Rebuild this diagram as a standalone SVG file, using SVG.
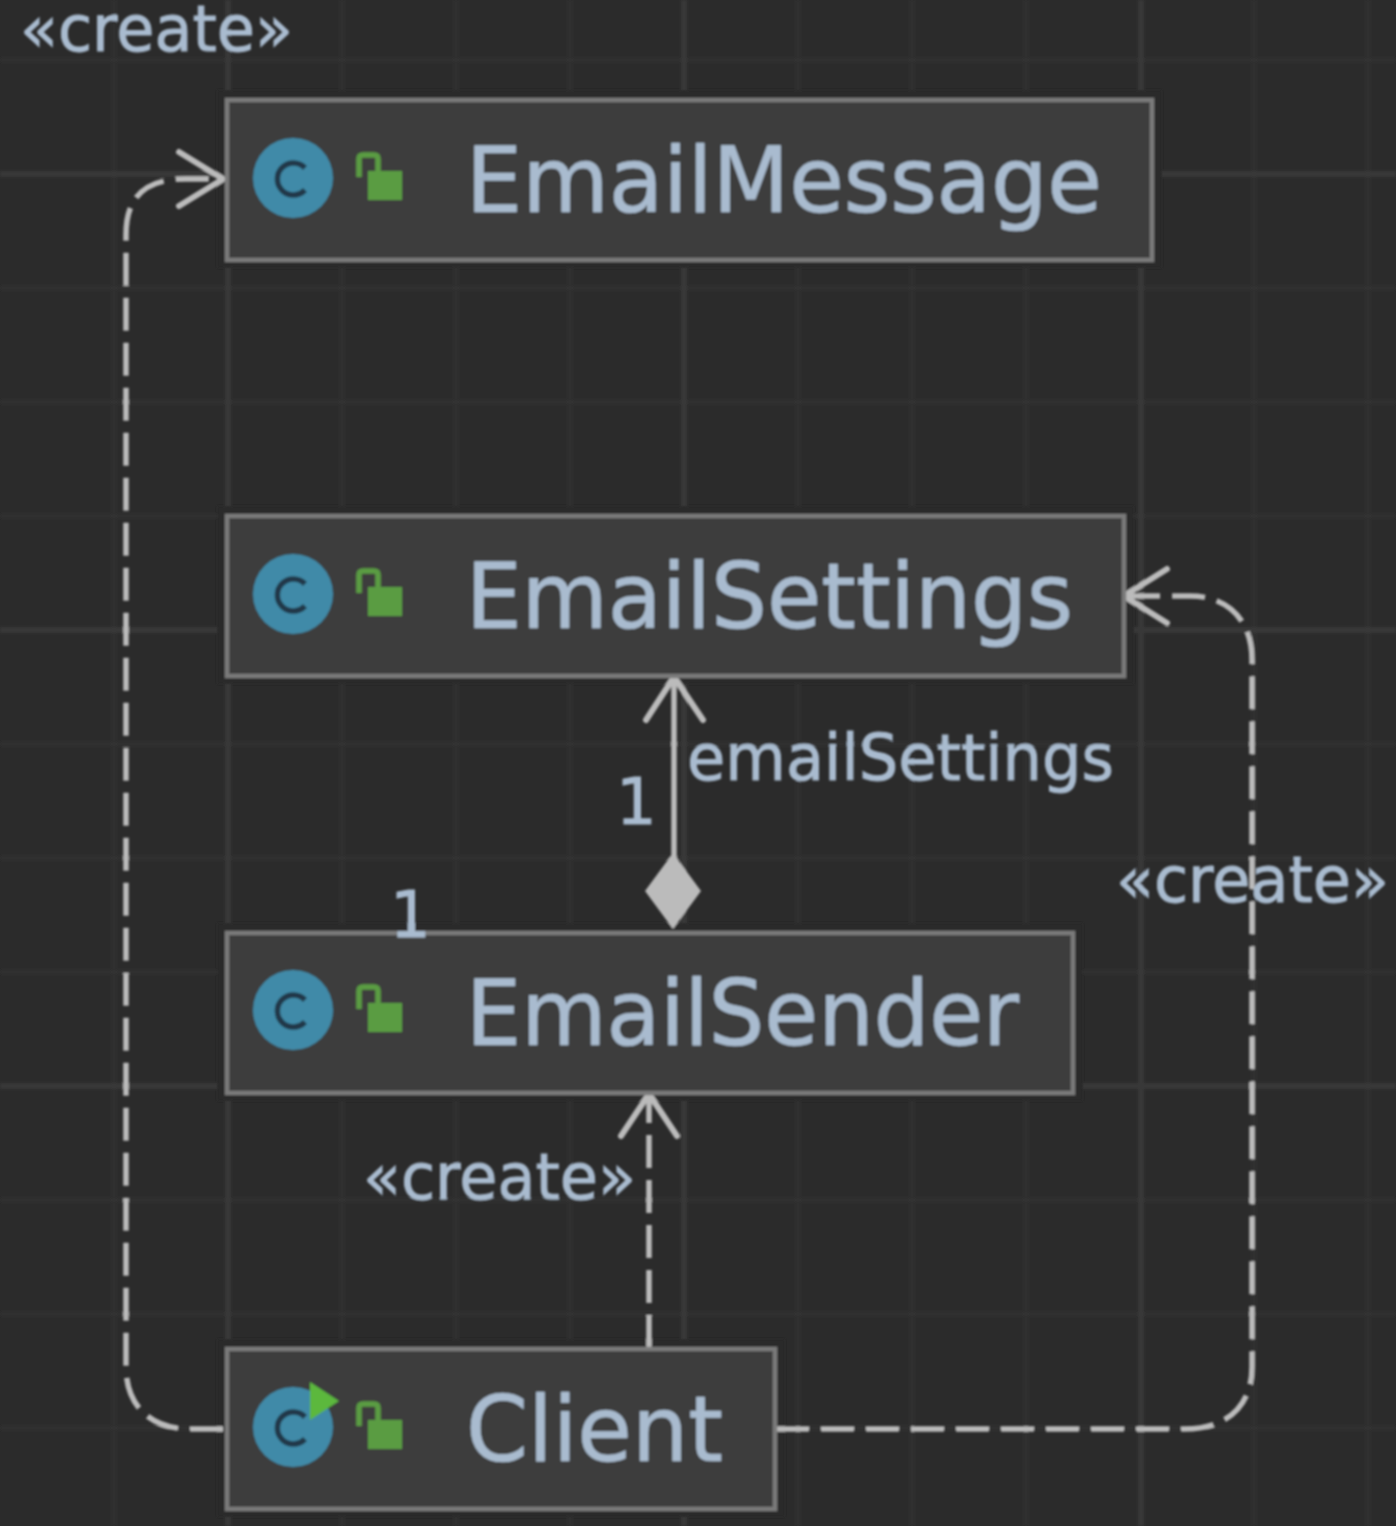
<svg xmlns="http://www.w3.org/2000/svg" width="1396" height="1526" viewBox="0 0 1396 1526">
<style>
.minor{stroke:#313131;stroke-width:4;fill:none}
.major{stroke:#393939;stroke-width:6;fill:none}
.halo{fill:#2b2b2b}
.box{fill:#3c3c3c;stroke:#7a7a7a;stroke-width:4.5}
.name{font-family:"DejaVu Sans",sans-serif;font-size:90px;fill:#a9bbcf;stroke:#a9bbcf;stroke-width:.6}
.lbl{font-family:"DejaVu Sans",sans-serif;font-size:64px;fill:#a9bbcf;stroke:#a9bbcf;stroke-width:1}
.conn{fill:none;stroke:#bbbbbb;stroke-width:5.5}
.dash{stroke-dasharray:33 12}
.head{fill:none;stroke:#bbbbbb;stroke-width:6;stroke-linecap:round;stroke-linejoin:miter}
.ci{fill:#3f8aa8}
.cg{fill:none;stroke:#22394a;stroke-width:5.5}
.lock{fill:#5a9c42}
.shackle{fill:none;stroke:#5a9c42;stroke-width:5.5}
</style>
<defs>
<filter id="soft" x="0" y="0" width="100%" height="100%"><feGaussianBlur stdDeviation="0.8"/></filter>
<g id="classIcon"><circle cx="293" cy="0" r="40" class="ci"/><path d="M305 -10A16 16 0 1 0 305 12" class="cg"/></g>
<g id="lockIcon"><rect x="368" y="5" width="34" height="29" class="lock"/><path d="M359 11V-7Q359 -11 363 -11H374Q378 -11 378 -7V5" class="shackle"/></g>
</defs>
<rect width="1396" height="1526" fill="#2b2b2b"/>
<g filter="url(#soft)">
<g id="grid">
<path class="minor" d="M114 0V1526M342 0V1526M456 0V1526M570 0V1526M798 0V1526M912 0V1526M1026 0V1526M1254 0V1526M1368 0V1526M0 60H1396M0 288H1396M0 402H1396M0 516H1396M0 744H1396M0 858H1396M0 972H1396M0 1200H1396M0 1314H1396M0 1428H1396"/>
<path class="major" d="M228 0V1526M684 0V1526M1141 0V1526M0 174H1396M0 630H1396M0 1086H1396"/>
<rect class="halo" x="217" y="90" width="945" height="178"/>
<rect class="halo" x="217" y="506" width="917" height="178"/>
<rect class="halo" x="217" y="923" width="866" height="178"/>
<rect class="halo" x="217" y="1339" width="568" height="178"/>
</g>
<g id="connectors">
<path class="conn dash" d="M223 1429H190C150 1429 126 1405 126 1367V235C126 197 145 179 185 179H222"/>
<path class="head" d="M179 152L223 179L179 206"/>
<path class="conn dash" d="M776 1429H1185C1228 1429 1252 1405 1252 1367V660C1252 620 1228 596 1190 596H1126"/>
<path class="head" d="M1167 569L1124 596L1167 623"/>
<path class="conn dash" d="M649 1348V1096"/>
<path class="head" d="M621 1136L649 1094L677 1136"/>
<path class="conn" d="M674 860V678"/>
<path class="head" d="M646 720L674 677L703 720"/>
<polygon points="673,853 701,891 673,929 645,891" fill="#bbbbbb"/>
</g>
<g id="EmailMessage">
<rect class="box" x="227" y="100" width="925" height="160"/>
<use href="#classIcon" y="178"/><use href="#lockIcon" y="166"/>
<text class="name" x="466" y="212" textLength="636" lengthAdjust="spacingAndGlyphs">EmailMessage</text>
</g>
<g id="EmailSettings">
<rect class="box" x="227" y="516" width="897" height="160"/>
<use href="#classIcon" y="594"/><use href="#lockIcon" y="582"/>
<text class="name" x="466" y="628" textLength="607" lengthAdjust="spacingAndGlyphs">EmailSettings</text>
</g>
<g id="EmailSender">
<rect class="box" x="227" y="933" width="846" height="160"/>
<use href="#classIcon" y="1010"/><use href="#lockIcon" y="998"/>
<text class="name" x="466" y="1045" textLength="553" lengthAdjust="spacingAndGlyphs">EmailSender</text>
</g>
<g id="Client">
<rect class="box" x="227" y="1349" width="548" height="160"/>
<use href="#classIcon" y="1427"/><use href="#lockIcon" y="1415"/>
<polygon points="310,1382 339,1401 310,1420" fill="#5cb83c"/>
<text class="name" x="466" y="1461" textLength="257" lengthAdjust="spacingAndGlyphs">Client</text>
</g>
<g id="labels">
<text class="lbl" x="20" y="51" textLength="273" lengthAdjust="spacingAndGlyphs">«create»</text>
<text class="lbl" x="687" y="780" textLength="427" lengthAdjust="spacingAndGlyphs">emailSettings</text>
<text class="lbl" x="616" y="824">1</text>
<text class="lbl" x="390" y="937">1</text>
<text class="lbl" x="1116" y="902" textLength="273" lengthAdjust="spacingAndGlyphs">«create»</text>
<text class="lbl" x="363" y="1199" textLength="273" lengthAdjust="spacingAndGlyphs">«create»</text>
</g>
</g>
</svg>
